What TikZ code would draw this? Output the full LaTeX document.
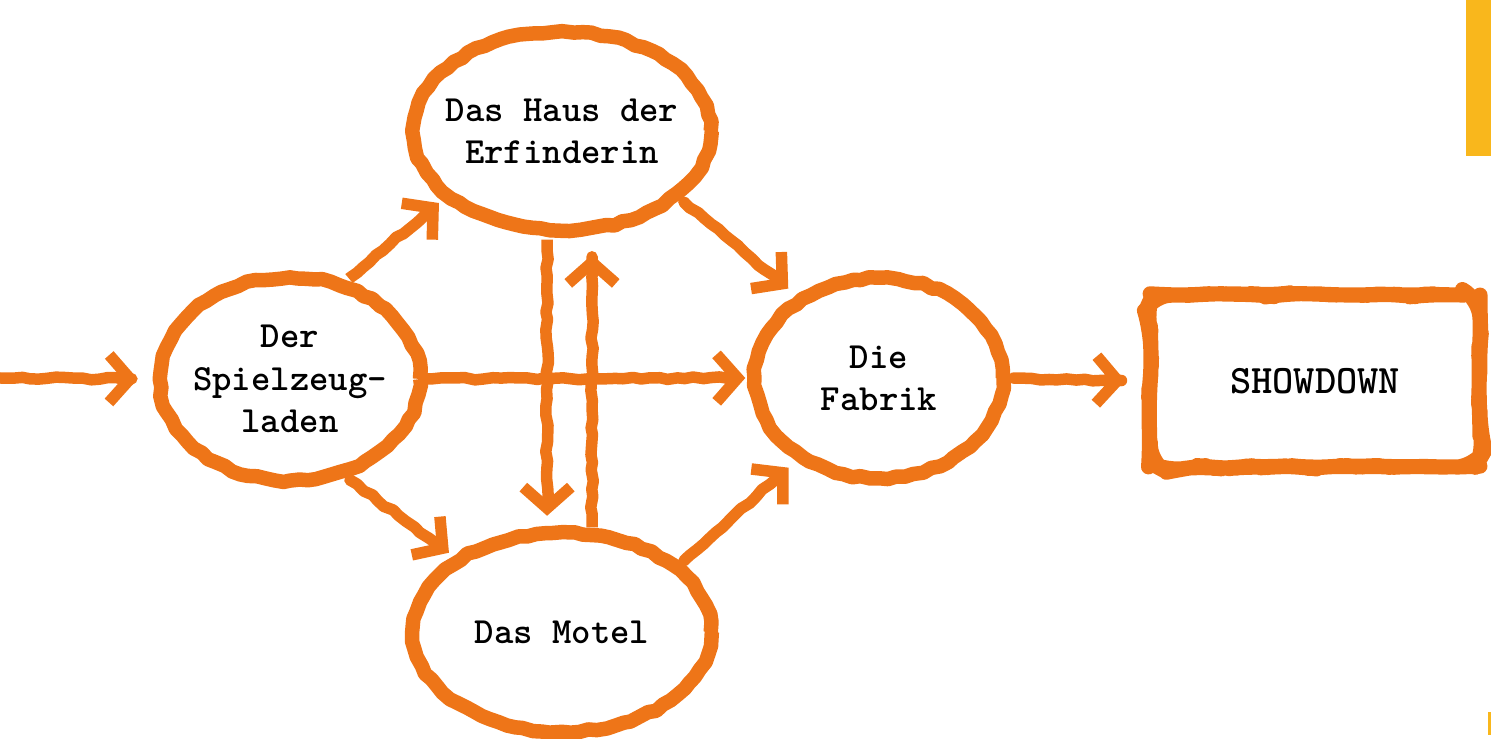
\documentclass[tikz,border=0pt]{standalone}
\usepackage{tikz}
\usepackage{xcolor}
\usetikzlibrary{shapes.geometric,arrows.meta,decorations.pathmorphing}
\definecolor{brushorange}{RGB}{238,117,24}
\definecolor{baryellow}{RGB}{249,183,28}
\begin{document}
\begin{tikzpicture}[x=0.02cm,y=-0.02cm]
        \tikzstyle{every node}+=[inner sep=0pt]
        \tikzstyle{place}=[ellipse, inner xsep=-0.35cm, draw=brushorange, line width=0.29cm, line join=round, decorate, decoration={random steps,segment length=5pt,amplitude=0.8pt}, font=\fontsize{21}{24}\selectfont\ttfamily\bfseries, align=center]
        \tikzstyle{finale}=[rectangle, rounded corners=0.4cm, draw=brushorange, line width=0.3cm, line join=round, decorate, decoration={random steps,segment length=9pt,amplitude=0.8pt}, font=\fontsize{23}{27}\selectfont\ttfamily\bfseries]
        \tikzstyle{move}=[draw=brushorange, line width=0.23cm, line join=round, -{Straight Barb[length=0.42cm,width=0.95cm]}, decorate, decoration={random steps,segment length=5pt,amplitude=0.8pt,pre length=2pt,post length=12pt}]
        \useasboundingbox (0,0) rectangle (1491,739);
        \fill [baryellow] (1466,0) rectangle (1491,156);
        \fill [baryellow] (1488,712) rectangle (1491,735);
        \node [place, minimum width=5.95cm, minimum height=3.98cm] (haus) at (562,131) {Das Haus der\\Erfinderin};
        \node [place, minimum width=5.2cm, minimum height=4.06cm] (spiel) at (290,379) {Der\\Spielzeug-\\laden};
        \node [place, minimum width=4.96cm, minimum height=4.0cm] (fabrik) at (879,378) {Die\\Fabrik};
        \node [place, minimum width=5.95cm, minimum height=3.98cm] (motel) at (562,632) {Das Motel};
        \node [finale, minimum width=6.6cm, minimum height=3.44cm] (showdown) at (1315,381) {SHOWDOWN};
        \coordinate (start) at (0,378);
        \draw [move, shorten >=0.3cm] (start) -- (spiel.west);
        \draw [move, shorten <=0.05cm, shorten >=0.1cm] (spiel.60) -- (haus.210);
        \draw [move, shorten <=0.1cm, shorten >=0.2cm] (haus.330) -- (fabrik.135);
        \draw [move, shorten <=0.1cm, shorten >=0.1cm] (spiel.300) -- (motel.145);
        \draw [move, shorten <=0.1cm, shorten >=0.2cm] (motel.30) -- (fabrik.225);
        \draw [move, shorten >=0.05cm] (spiel.east) -- (fabrik.west);
        \draw [move, shorten <=0.05cm, shorten >=0.2cm] (haus.262) -- (motel.98);
        \draw [move, shorten >=0.38cm] (motel.74) -- (haus.286);
        \draw [move, shorten <=0.1cm, shorten >=0.35cm] (fabrik.east) -- (showdown.west);
\end{tikzpicture}
\end{document}
